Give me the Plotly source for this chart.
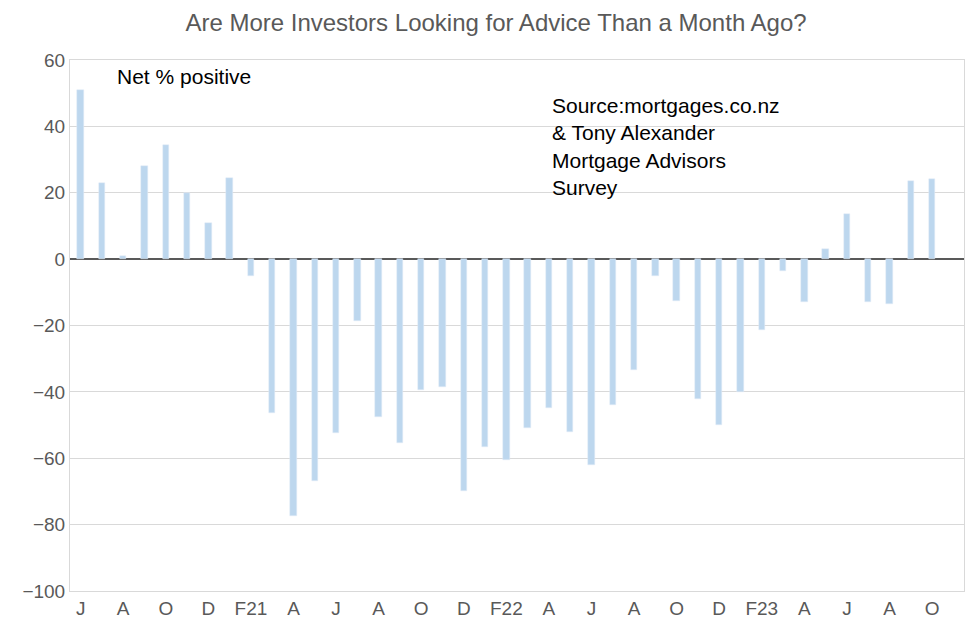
import plotly.graph_objects as go

months = ["Jun20","Jul20","Aug20","Sep20","Oct20","Nov20","Dec20","Jan21","Feb21","Mar21","Apr21","May21",
          "Jun21","Jul21","Aug21","Sep21","Oct21","Nov21","Dec21","Jan22","Feb22","Mar22","Apr22","May22",
          "Jun22","Jul22","Aug22","Sep22","Oct22","Nov22","Dec22","Jan23","Feb23","Mar23","Apr23","May23",
          "Jun23","Jul23","Aug23","Sep23","Oct23"]
values = [51,23,1,28,34.5,20,11,24.5,-5,-46.5,-77.5,-67,
          -52.5,-18.5,-47.5,-55.5,-39.5,-38.5,-70,-56.5,-60.5,-51,-45,-52,
          -62,-44,-33.5,-5,-12.5,-42,-50,-40,-21.5,-3.5,-13,3,
          13.5,-13,-13.5,23.5,24]
tick_labels = ["J","A","O","D","F21","A","J","A","O","D","F22","A","J","A","O","D","F23","A","J","A","O"]

fig = go.Figure(go.Bar(x=months, y=values, marker_color="#BDD7EE", width=0.3))
fig.update_layout(
    width=976, height=636, margin=dict(l=62, r=20, t=52, b=53),
    plot_bgcolor="white", paper_bgcolor="white",
    font=dict(family="Liberation Sans, Arial", size=19, color="#595959"),
    title=dict(text="Are More Investors Looking for Advice Than a Month Ago?", x=0.5, xanchor="center",
               y=0.99, yanchor="top", font=dict(size=24, color="#595959")),
    showlegend=False, bargap=0,
)
fig.update_xaxes(type="category", tickvals=months[::2], ticktext=tick_labels, showline=True,
                 linecolor="#D9D9D9", mirror=True, ticks="", showgrid=False, range=[-0.5, 41.5])
fig.update_yaxes(range=[-100, 60], dtick=20, showgrid=True, gridcolor="#D9D9D9", showline=True,
                 linecolor="#D9D9D9", mirror=True, zeroline=True, zerolinecolor="#595959", zerolinewidth=1.5,
                 ticks="")
fig.add_annotation(x=0.05, y=0.995, xref="paper", yref="paper", xanchor="left", yanchor="top",
                   text="Net % positive", showarrow=False, font=dict(size=21, color="black"))
fig.add_annotation(x=0.537, y=0.94, xref="paper", yref="paper", xanchor="left", yanchor="top", align="left",
                   text="Source:mortgages.co.nz<br>& Tony Alexander<br>Mortgage Advisors<br>Survey",
                   showarrow=False, font=dict(size=21, color="black"))
fig.write_html("out.html")
